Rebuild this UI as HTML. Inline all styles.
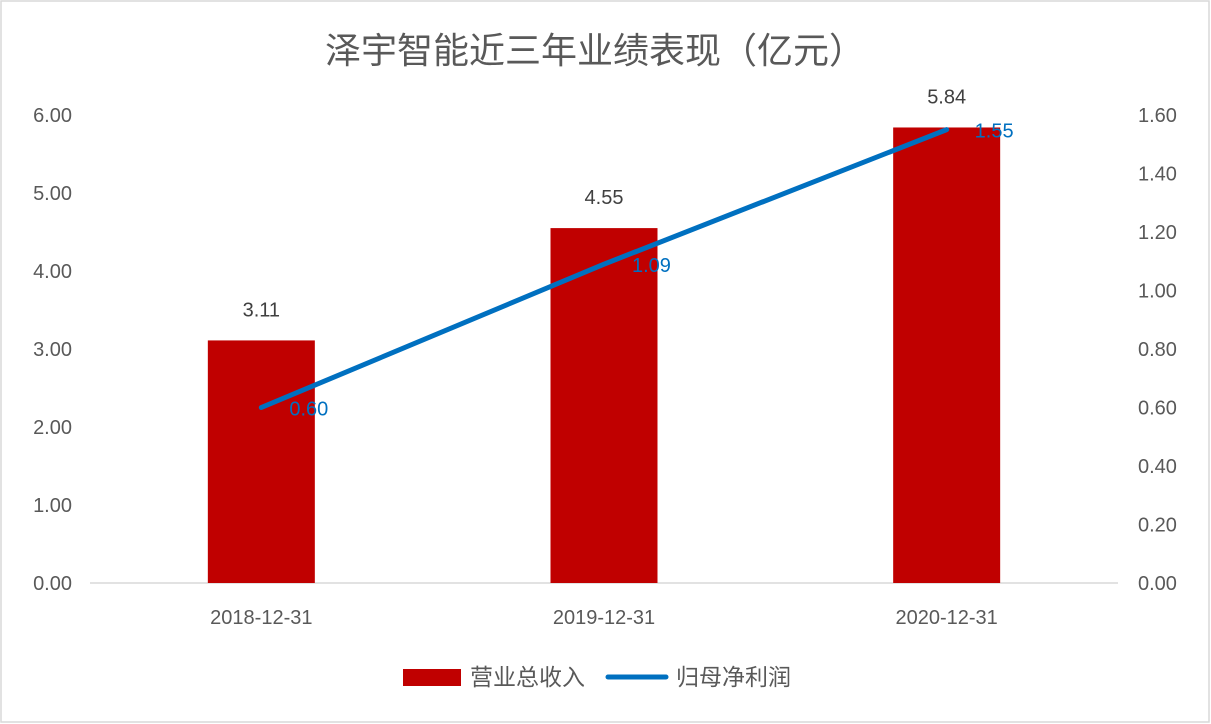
<!DOCTYPE html>
<html><head><meta charset="utf-8"><style>
html,body{margin:0;padding:0;background:#fff;}
svg{display:block;font-family:"Liberation Sans","Noto Sans CJK SC",sans-serif;}
</style></head><body>
<svg id="chart" width="1211" height="724">
<rect x="1" y="1" width="1208" height="721" fill="#fff" stroke="#d9d9d9" stroke-width="1.5"/>
<text x="595" y="63" font-size="36" fill="#595959" text-anchor="middle">泽宇智能近三年业绩表现（亿元）</text>
<g id="axes"></g>
<g id="bars"></g>
<g id="line"></g>
<g>
<rect x="403" y="669" width="58" height="17" fill="#c00000"/>
<text x="470" y="685" font-size="23" fill="#595959">营业总收入</text>
<line x1="608" y1="677" x2="666" y2="677" stroke="#0070c0" stroke-width="5" stroke-linecap="round"/>
<text x="676" y="685" font-size="23" fill="#595959">归母净利润</text>
</g>
</svg>
<script>
const categories = ["2018-12-31","2019-12-31","2020-12-31"];
const revenue = [3.11,4.55,5.84];
const profit = [0.60,1.09,1.55];
const leftTicks = [0,1,2,3,4,5,6];
const rightTicks = [0,0.2,0.4,0.6,0.8,1.0,1.2,1.4,1.6];

const NS="http://www.w3.org/2000/svg";
const x0=90,x1=1118,yB=583,yT=115;
const yL=v=>yB-(v/6)*(yB-yT);
const yR=v=>yB-(v/1.6)*(yB-yT);
const bw=(x1-x0)/categories.length;
const xC=i=>x0+bw*(i+0.5);
function mk(tag,attrs,parent,txt){const e=document.createElementNS(NS,tag);for(const k in attrs)e.setAttribute(k,attrs[k]);if(txt!==undefined)e.textContent=txt;parent.appendChild(e);return e;}
const axes=document.getElementById('axes'),bars=document.getElementById('bars'),line=document.getElementById('line');
let e=mk('line',{x1:x0,x2:x1,y1:yB,y2:yB,stroke:'#d9d9d9','stroke-width':1.5},axes);


leftTicks.forEach(v=>{const t=mk('text',{x:72,y:yL(v)+7,'font-size':20,fill:'#595959','text-anchor':'end'},axes,v.toFixed(2));

});
rightTicks.forEach(v=>{const t=mk('text',{x:1138,y:yR(v)+7,'font-size':20,fill:'#595959'},axes,v.toFixed(2));

});
categories.forEach((c,i)=>{const t=mk('text',{x:xC(i),y:624,'font-size':20,fill:'#595959','text-anchor':'middle'},axes,c);

});
const barW=107;
revenue.forEach((v,i)=>{const r=mk('rect',{x:xC(i)-barW/2,y:yL(v),width:barW,height:yB-yL(v),fill:'#c00000'},bars);


const t=mk('text',{x:xC(i),y:yL(v)-24,'font-size':20,fill:'#404040','text-anchor':'middle'},bars,v.toFixed(2));

});
const pts=profit.map((v,i)=>xC(i)+','+yR(v)).join(' ');
const pl=mk('polyline',{points:pts,fill:'none',stroke:'#0070c0','stroke-width':5,'stroke-linecap':'round','stroke-linejoin':'round'},line);


profit.forEach((v,i)=>{const t=mk('text',{x:xC(i)+28,y:yR(v)+8,'font-size':20,fill:'#0070c0'},line,v.toFixed(2));

});
</script>
</body></html>
